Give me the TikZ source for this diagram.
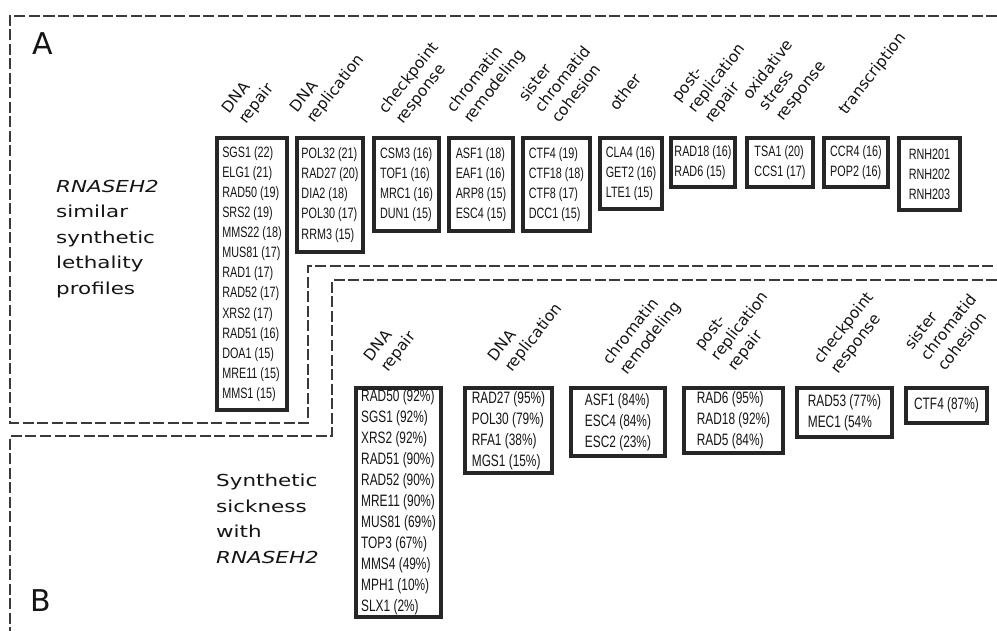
\documentclass[tikz,border=0pt]{standalone}
\usepackage{fontspec}
\setmainfont{DejaVu Sans}
\newfontfamily\hdfont{DejaVu Sans}
\newfontfamily\lblfont[FakeStretch=1.3]{DejaVu Sans}
\newfontfamily\gnfont[FakeStretch=0.72]{Liberation Sans}
\definecolor{txt}{HTML}{151515}
\definecolor{boxc}{HTML}{262626}
\definecolor{framec}{HTML}{3A3A3A}
\newcommand\gboxA[6]{\node[gbox,font={\gnfont\fontsize{15}{20.1}\selectfont},minimum width={#4-#2-4},minimum height={#5-#3-4}] (#1) at (#2+2,#3+2) {#6};}
\newcommand\gboxB[6]{\node[gbox,font={\gnfont\fontsize{16.5}{21}\selectfont},minimum width={#4-#2-4},minimum height={#5-#3-4}] (#1) at (#2+2,#3+2) {#6};}
\newcommand\hdrone[4]{\node[hdr] (#1a) at (#2,#3) {#4};}
\newcommand\hdrtwo[5]{\node[hdr] (#1b) at (#2,#3) {#5};
  \node[hdr] (#1a) at (#2-16.5,#3-10.5) {#4};}
\newcommand\hdrthree[6]{\node[hdr] (#1c) at (#2,#3) {#6};
  \node[hdr] (#1b) at (#2-16.5,#3-10.5) {#5};
  \node[hdr] (#1a) at (#2-33,#3-21) {#4};}
\begin{document}
\begin{tikzpicture}[x=1pt,y=-1pt,
  gbox/.style={draw=boxc,line width=4pt,fill=white,inner sep=0pt,align=left,anchor=north west,text=txt},
  hdr/.style={rotate=52,anchor=base west,inner sep=0pt,text=txt,font={\hdfont\fontsize{15.5}{19}\selectfont}},
  lbl/.style={anchor=base west,inner sep=0pt,text=txt,font={\lblfont\fontsize{16.5}{25.5}\selectfont}},
  big/.style={anchor=base west,inner sep=0pt,text=txt,font={\hdfont\fontsize{30}{36}\selectfont}},
  frame/.style={draw=framec,line width=1.1pt,dash pattern=on 11pt off 3.5pt}]
\useasboundingbox (0,0) rectangle (997,631);
\fill[white] (0,0) rectangle (997,631);
% dashed frames
\draw[frame] (997,16) -- (10,16) -- (10,423) -- (308,423) -- (308,266) -- (997,266);
\draw[frame] (997,280) -- (332,280) -- (332,436) -- (10,436) -- (10,631);
% panel letters and labels
\node[big] (lA) at (32,55) {A};
\node[big] (lB) at (30,611) {B};
\node[lbl] (la1) at (56,193) {\itshape RNASEH2};
\node[lbl] (la2) at (56,218) {similar};
\node[lbl] (la3) at (56,244) {synthetic};
\node[lbl] (la4) at (56,269) {lethality};
\node[lbl] (la5) at (56,295) {profiles};
\node[lbl] (lb1) at (216,486) {Synthetic};
\node[lbl] (lb2) at (216,512) {sickness};
\node[lbl] (lb3) at (216,537) {with};
\node[lbl] (lb4) at (216,563) {\itshape RNASEH2};
% panel A boxes
\gboxA{a1}{213}{134}{287}{410}{SGS1 (22)\\ELG1 (21)\\RAD50 (19)\\SRS2 (19)\\MMS22 (18)\\MUS81 (17)\\RAD1 (17)\\RAD52 (17)\\XRS2 (17)\\RAD51 (16)\\DOA1 (15)\\MRE11 (15)\\MMS1 (15)}
\gboxA{a2}{293}{134}{363}{252}{POL32 (21)\\RAD27 (20)\\DIA2 (18)\\POL30 (17)\\RRM3 (15)}
\gboxA{a3}{370}{134}{439}{231}{CSM3 (16)\\TOF1 (16)\\MRC1 (16)\\DUN1 (15)}
\gboxA{a4}{445}{134}{513}{231}{ASF1 (18)\\EAF1 (16)\\ARP8 (15)\\ESC4 (15)}
\gboxA{a5}{519}{134}{590}{231}{CTF4 (19)\\CTF18 (18)\\CTF8 (17)\\DCC1 (15)}
\gboxA{a6}{596}{134}{662}{209}{CLA4 (16)\\GET2 (16)\\LTE1 (15)}
\gboxA{a7}{667}{134}{735}{187}{RAD18 (16)\\RAD6 (15)}
\gboxA{a8}{743}{134}{813}{187}{TSA1 (20)\\CCS1 (17)}
\gboxA{a9}{820}{134}{888}{187}{CCR4 (16)\\POP2 (16)}
\gboxA{a10}{895}{134}{960}{210}{RNH201\\RNH202\\RNH203}
% panel A headers
\hdrtwo{ha1}{246}{125}{DNA}{repair}
\hdrtwo{ha2}{314}{124}{DNA}{replication}
\hdrtwo{ha3}{403}{125}{checkpoint}{response}
\hdrtwo{ha4}{471}{124}{chromatin}{remodeling}
\hdrthree{ha5}{559}{124}{sister}{chromatid}{cohesion}
\hdrone{ha6}{617}{112}{other}
\hdrthree{ha7}{712}{124}{post-}{replication}{repair}
\hdrthree{ha8}{783}{122}{oxidative}{stress}{response}
\hdrone{ha9}{846}{116}{transcription}
% panel B boxes
\gboxB{b1}{352}{384}{441}{617}{RAD50 (92\%)\\SGS1 (92\%)\\XRS2 (92\%)\\RAD51 (90\%)\\RAD52 (90\%)\\MRE11 (90\%)\\MUS81 (69\%)\\TOP3 (67\%)\\MMS4 (49\%)\\MPH1 (10\%)\\SLX1 (2\%)}
\gboxB{b2}{461}{384}{552}{473}{RAD27 (95\%)\\POL30 (79\%)\\RFA1 (38\%)\\MGS1 (15\%)}
\gboxB{b3}{567}{384}{665}{456}{ASF1 (84\%)\\ESC4 (84\%)\\ESC2 (23\%)}
\gboxB{b4}{680}{384}{783}{453}{RAD6 (95\%)\\RAD18 (92\%)\\RAD5 (84\%)}
\gboxB{b5}{793}{384}{892}{437}{RAD53 (77\%)\\MEC1 (54\%}
\gboxB{b6}{902}{384}{987}{423}{CTF4 (87\%)}
% panel B headers
\hdrtwo{hb1}{388}{373}{DNA}{repair}
\hdrtwo{hb2}{512}{373}{DNA}{replication}
\hdrtwo{hb3}{627}{376}{chromatin}{remodeling}
\hdrthree{hb4}{735}{372}{post-}{replication}{repair}
\hdrtwo{hb5}{838}{375}{checkpoint}{response}
\hdrthree{hb6}{945}{372}{sister}{chromatid}{cohesion}
\end{tikzpicture}
\end{document}
